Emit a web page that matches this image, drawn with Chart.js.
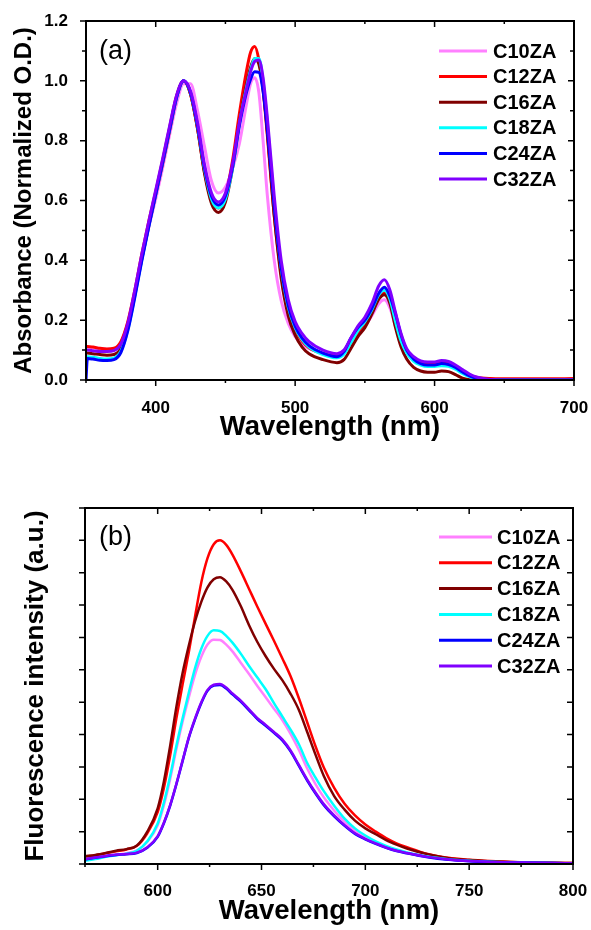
<!DOCTYPE html>
<html>
<head>
<meta charset="utf-8">
<script src="https://cdn.jsdelivr.net/npm/chart.js@4.4.0/dist/chart.umd.min.js"></script>
<style>
  body { margin: 0; background: #fff; }
  .panel { position: absolute; left: 0; width: 591px; height: 465px; }
</style>
</head>
<body>
<div class="panel" style="top:0"><canvas id="absChart" width="591" height="465"></canvas></div>
<div class="panel" style="top:465px"><canvas id="flChart" width="591" height="465"></canvas></div>
<script>
// =========================
// البيانات
// =========================
const SAMPLES = ['C10ZA', 'C12ZA', 'C16ZA', 'C18ZA', 'C24ZA', 'C32ZA'];
const COLORS = ['#ff80ff', '#ff0000', '#800000', '#00ffff', '#0000ff', '#8000ff'];

// (a) absorption, wavelength in nm
const ABS_WL = [350, 351, 355, 360, 365, 370, 375, 380, 385, 390,
  395, 400, 405, 410, 415, 420, 425, 430, 435, 440,
  445, 450, 455, 460, 465, 468, 471, 474, 477, 480,
  485, 490, 495, 500, 505, 510, 520, 530, 535, 540,
  545, 550, 555, 560, 564, 568, 572, 576, 580, 585,
  590, 595, 600, 605, 610, 615, 620, 625, 630, 640,
  660, 680, 700];

const ABS_C10 = [0.11, 0.11, 0.108, 0.105, 0.103, 0.105, 0.125, 0.19, 0.29, 0.405,
  0.51, 0.605, 0.71, 0.82, 0.925, 0.99, 0.99, 0.9, 0.78, 0.665,
  0.625, 0.645, 0.705, 0.79, 0.92, 0.99, 1.01, 0.96, 0.8, 0.62,
  0.4, 0.265, 0.19, 0.145, 0.12, 0.105, 0.09, 0.085, 0.095, 0.125,
  0.155, 0.18, 0.215, 0.255, 0.268, 0.24, 0.18, 0.13, 0.095, 0.072,
  0.06, 0.056, 0.056, 0.06, 0.058, 0.047, 0.032, 0.018, 0.008, 0.002,
  0, 0, 0];
const ABS_C12 = [0.112, 0.112, 0.11, 0.106, 0.104, 0.106, 0.128, 0.195, 0.3, 0.42,
  0.53, 0.63, 0.735, 0.845, 0.95, 1.0, 0.955, 0.84, 0.695, 0.6,
  0.575, 0.615, 0.73, 0.89, 1.03, 1.095, 1.115, 1.07, 0.97, 0.82,
  0.55, 0.355, 0.235, 0.17, 0.13, 0.108, 0.088, 0.08, 0.09, 0.125,
  0.16, 0.19, 0.23, 0.275, 0.292, 0.265, 0.195, 0.135, 0.095, 0.07,
  0.058, 0.054, 0.054, 0.058, 0.056, 0.045, 0.03, 0.017, 0.009, 0.005,
  0.004, 0.004, 0.005];
const ABS_C16 = [0.09, 0.09, 0.088, 0.085, 0.083, 0.085, 0.106, 0.175, 0.285, 0.405,
  0.515, 0.62, 0.725, 0.835, 0.945, 1.0, 0.955, 0.84, 0.69, 0.59,
  0.56, 0.595, 0.705, 0.86, 0.985, 1.045, 1.075, 1.055, 0.975, 0.83,
  0.55, 0.34, 0.215, 0.15, 0.11, 0.088, 0.068, 0.058, 0.068, 0.105,
  0.145, 0.175, 0.22, 0.27, 0.285, 0.255, 0.175, 0.11, 0.07, 0.042,
  0.03, 0.026, 0.026, 0.03, 0.028, 0.018, 0.006, 0.001, 0, 0,
  0, 0, 0];
const ABS_C18 = [0.078, 0.078, 0.076, 0.072, 0.07, 0.073, 0.096, 0.168, 0.28, 0.402,
  0.515, 0.622, 0.73, 0.84, 0.945, 1.0, 0.96, 0.85, 0.705, 0.605,
  0.575, 0.605, 0.705, 0.855, 0.975, 1.035, 1.075, 1.075, 1.0, 0.865,
  0.59, 0.375, 0.245, 0.175, 0.135, 0.11, 0.085, 0.074, 0.086, 0.125,
  0.165, 0.195, 0.235, 0.285, 0.3, 0.27, 0.195, 0.13, 0.09, 0.062,
  0.05, 0.045, 0.045, 0.048, 0.046, 0.036, 0.022, 0.011, 0.004, 0.001,
  0, 0, 0];
const ABS_C24 = [0.0, 0.072, 0.07, 0.066, 0.065, 0.068, 0.092, 0.165, 0.276, 0.398,
  0.512, 0.62, 0.728, 0.838, 0.945, 1.0, 0.96, 0.85, 0.71, 0.615,
  0.585, 0.615, 0.71, 0.85, 0.96, 1.005, 1.03, 1.028, 0.965, 0.84,
  0.58, 0.375, 0.25, 0.18, 0.14, 0.115, 0.09, 0.078, 0.095, 0.14,
  0.175, 0.2, 0.24, 0.29, 0.31, 0.28, 0.22, 0.15, 0.1, 0.07,
  0.055, 0.05, 0.05, 0.055, 0.052, 0.042, 0.027, 0.014, 0.006, 0.001,
  0, 0, 0];
const ABS_C32 = [0.1, 0.1, 0.098, 0.095, 0.095, 0.098, 0.12, 0.19, 0.3, 0.42,
  0.53, 0.635, 0.74, 0.85, 0.952, 1.0, 0.965, 0.86, 0.72, 0.625,
  0.595, 0.625, 0.72, 0.86, 0.97, 1.03, 1.065, 1.07, 1.01, 0.88,
  0.615, 0.4, 0.27, 0.195, 0.155, 0.128, 0.1, 0.088, 0.1, 0.14,
  0.18, 0.21, 0.255, 0.315, 0.335, 0.3, 0.225, 0.155, 0.105, 0.078,
  0.064, 0.06, 0.06, 0.065, 0.062, 0.05, 0.035, 0.02, 0.01, 0.002,
  0, 0, 0];

// (b) fluorescence, wavelength in nm, intensity in arbitrary units
const FL_WL = [565, 570, 575, 580, 585, 590, 595, 600,
  603, 606, 609, 612, 615, 618, 621, 624, 627, 630, 633, 636,
  640, 644, 648, 652, 656, 660, 664, 668, 672, 676, 680,
  685, 690, 695, 700, 705, 710, 715, 720,
  730, 740, 750, 760, 770, 780, 790, 800];

const FL_C10 = [0.12, 0.17, 0.23, 0.28, 0.33, 0.42, 0.68, 1.2,
  1.82, 2.62, 3.55, 4.4, 5.15, 5.85, 6.4, 6.78, 6.93, 6.92, 6.78, 6.57,
  6.22, 5.87, 5.5, 5.15, 4.8, 4.45, 4.02, 3.52, 2.95, 2.47, 2.06,
  1.65, 1.3, 1.02, 0.81, 0.65, 0.52, 0.42, 0.34,
  0.22, 0.14, 0.1, 0.07, 0.05, 0.04, 0.03, 0.025];
const FL_C12 = [0.22, 0.27, 0.33, 0.39, 0.45, 0.56, 0.95, 1.6,
  2.35, 3.35, 4.5, 5.55, 6.55, 7.65, 8.7, 9.45, 9.88, 10.0, 9.86, 9.56,
  9.05, 8.5, 7.95, 7.42, 6.9, 6.36, 5.8, 5.12, 4.38, 3.64, 2.98,
  2.35, 1.86, 1.5, 1.22, 1.0, 0.8, 0.64, 0.52,
  0.31, 0.19, 0.13, 0.09, 0.06, 0.045, 0.035, 0.03];
const FL_C16 = [0.24, 0.28, 0.34, 0.41, 0.46, 0.57, 1.0, 1.72,
  2.55, 3.65, 4.85, 5.9, 6.75, 7.5, 8.1, 8.55, 8.8, 8.86, 8.73, 8.47,
  7.97, 7.38, 6.86, 6.42, 6.03, 5.68, 5.26, 4.76, 4.08, 3.38, 2.72,
  2.1, 1.68, 1.34, 1.1, 0.92, 0.74, 0.6, 0.48,
  0.3, 0.18, 0.12, 0.085, 0.06, 0.045, 0.035, 0.03];
const FL_C18 = [0.1, 0.15, 0.22, 0.27, 0.32, 0.41, 0.7, 1.25,
  1.9, 2.72, 3.65, 4.5, 5.3, 6.05, 6.65, 7.05, 7.22, 7.2, 7.05, 6.84,
  6.5, 6.12, 5.76, 5.4, 4.97, 4.56, 4.15, 3.7, 3.12, 2.67, 2.25,
  1.8, 1.4, 1.1, 0.88, 0.7, 0.56, 0.45, 0.36,
  0.23, 0.15, 0.1, 0.07, 0.05, 0.04, 0.03, 0.025];
const FL_C24 = [0.14, 0.19, 0.24, 0.28, 0.3, 0.34, 0.5, 0.84,
  1.26, 1.8, 2.46, 3.18, 3.9, 4.47, 4.97, 5.35, 5.51, 5.53, 5.42, 5.24,
  5.02, 4.75, 4.48, 4.27, 4.05, 3.82, 3.48, 3.03, 2.58, 2.18, 1.82,
  1.47, 1.18, 0.93, 0.76, 0.62, 0.5, 0.4, 0.33,
  0.21, 0.13, 0.085, 0.06, 0.045, 0.035, 0.028, 0.024];
const FL_C32 = [0.15, 0.2, 0.25, 0.29, 0.31, 0.35, 0.52, 0.86,
  1.28, 1.82, 2.48, 3.2, 3.92, 4.5, 5.0, 5.38, 5.54, 5.56, 5.45, 5.27,
  5.05, 4.78, 4.51, 4.3, 4.08, 3.85, 3.51, 3.06, 2.61, 2.21, 1.85,
  1.5, 1.2, 0.95, 0.78, 0.64, 0.51, 0.41, 0.34,
  0.22, 0.14, 0.09, 0.065, 0.05, 0.04, 0.03, 0.025];

const FONT = '"Liberation Sans", Arial, sans-serif';

// =========================
// إطار المحاور والتسميات
// =========================
function isStep(v, step) {
  const r = v / step;
  return Math.abs(r - Math.round(r)) < 1e-6;
}

const framePlugin = {
  id: 'frame',
  afterDatasetsDraw(chart, args, opts) {
    const { ctx, chartArea: a, scales: { x, y } } = chart;
    ctx.save();
    ctx.strokeStyle = '#000';
    ctx.lineWidth = 2;
    ctx.strokeRect(a.left, a.top, a.right - a.left, a.bottom - a.top);

    // tick marks: outside on left/bottom, inside on top/right
    ctx.lineWidth = 1.5;
    ctx.beginPath();
    x.ticks.forEach((t) => {
      const px = x.getPixelForValue(t.value);
      const len = isStep(t.value, opts.xMajor) ? 6 : 3;
      ctx.moveTo(px, a.bottom); ctx.lineTo(px, a.bottom + len);
      ctx.moveTo(px, a.top); ctx.lineTo(px, a.top + len);
    });
    y.ticks.forEach((t) => {
      const py = y.getPixelForValue(t.value);
      const len = isStep(t.value, opts.yMajor) ? 6 : 4;
      ctx.moveTo(a.left - len, py); ctx.lineTo(a.left, py);
      ctx.moveTo(a.right - len, py); ctx.lineTo(a.right, py);
    });
    ctx.stroke();

    // panel letter
    ctx.fillStyle = '#000';
    ctx.textBaseline = 'middle';
    ctx.font = '27px ' + FONT;
    ctx.fillText(opts.letter, a.left + opts.letterDx, a.top + opts.letterDy);

    // legend
    ctx.font = 'bold 20px ' + FONT;
    ctx.lineWidth = 3;
    chart.data.datasets.forEach((ds, i) => {
      const ly = a.top + opts.legTop + i * opts.legStep;
      ctx.strokeStyle = ds.borderColor;
      ctx.beginPath();
      ctx.moveTo(a.right - opts.legX0, ly);
      ctx.lineTo(a.right - opts.legX1, ly);
      ctx.stroke();
      ctx.fillText(ds.label, a.right - opts.legTx, ly + 1);
    });
    ctx.restore();
  }
};

// =========================
// إنشاء الرسم البياني
// =========================
function makeChart(id, wl, series, cfg) {
  const ctx = document.getElementById(id).getContext('2d');
  const datasets = series.map((vals, i) => ({
    label: SAMPLES[i],
    data: wl.map((w, j) => ({ x: w, y: vals[j] })),
    borderColor: COLORS[i],
    borderWidth: cfg.lineWidth,
    pointRadius: 0,
    cubicInterpolationMode: 'monotone',
    order: 5 - i
  }));

  return new Chart(ctx, {
    type: 'line',
    data: { datasets: datasets },
    plugins: [framePlugin],
    options: {
      responsive: false,
      animation: false,
      layout: { padding: cfg.padding },
      plugins: {
        legend: { display: false },
        tooltip: { enabled: false },
        frame: cfg.frame
      },
      scales: {
        x: {
          type: 'linear',
          min: cfg.xMin, max: cfg.xMax,
          grid: { display: false },
          border: { display: false },
          afterFit: (s) => {
            s.height = cfg.xHeight;
            s.paddingLeft = 0;
            s.paddingRight = 0;
          },
          ticks: {
            stepSize: cfg.xStep,
            autoSkip: false,
            maxRotation: 0,
            maxTicksLimit: 100,
            padding: cfg.xTickPad,
            color: '#000',
            font: { family: FONT, size: 17, weight: 'bold' },
            callback: (v) => (isStep(v, cfg.frame.xMajor) ? v : '')
          },
          title: {
            display: true,
            text: 'Wavelength (nm)',
            color: '#000',
            font: { family: FONT, size: 27.5, weight: 'bold' },
            padding: { top: 0, bottom: cfg.xTitlePad }
          }
        },
        y: {
          min: cfg.yMin, max: cfg.yMax,
          grid: { display: false },
          border: { display: false },
          afterFit: (s) => {
            s.width = cfg.yWidth;
            s.paddingTop = 0;
            s.paddingBottom = 0;
          },
          ticks: {
            stepSize: cfg.yStep,
            autoSkip: false,
            maxTicksLimit: 100,
            padding: 10,
            color: '#000',
            font: { family: FONT, size: 17, weight: 'bold' },
            callback: cfg.yLabel
          },
          title: {
            display: true,
            text: cfg.yTitle,
            color: '#000',
            font: { family: FONT, size: cfg.yTitleSize, weight: 'bold' },
            padding: { top: cfg.yTitlePad, bottom: 0 }
          }
        }
      }
    }
  });
}

makeChart('absChart', ABS_WL, [ABS_C10, ABS_C12, ABS_C16, ABS_C18, ABS_C24, ABS_C32], {
  lineWidth: 3,
  padding: { top: 21, right: 17, left: 0, bottom: 0 },
  xMin: 350, xMax: 700, xStep: 50, xHeight: 85, xTickPad: 10, xTitlePad: 21,
  yMin: 0, yMax: 1.2, yStep: 0.1, yWidth: 86, yTitlePad: 10, yTitleSize: 24,
  yTitle: 'Absorbance (Normalized O.D.)',
  yLabel: (v) => (isStep(v, 0.2) ? v.toFixed(1) : ''),
  frame: { xMajor: 100, yMajor: 0.2, letter: '(a)', letterDx: 13, letterDy: 31,
    legTop: 30, legStep: 25.6, legX0: 135, legX1: 87, legTx: 81 }
});

makeChart('flChart', FL_WL, [FL_C10, FL_C12, FL_C16, FL_C18, FL_C24, FL_C32], {
  lineWidth: 2.5,
  padding: { top: 43, right: 18, left: 0, bottom: 0 },
  xMin: 565, xMax: 800, xStep: 25, xHeight: 66, xTickPad: 9, xTitlePad: 2,
  yMin: 0, yMax: 11, yStep: 1, yWidth: 85, yTitlePad: 20, yTitleSize: 26,
  yTitle: 'Fluorescence intensity (a.u.)',
  yLabel: () => '',
  frame: { xMajor: 50, yMajor: 1, letter: '(b)', letterDx: 14, letterDy: 30,
    legTop: 29, legStep: 25.8, legX0: 134, legX1: 81, legTx: 76 }
});
</script>
</body>
</html>
